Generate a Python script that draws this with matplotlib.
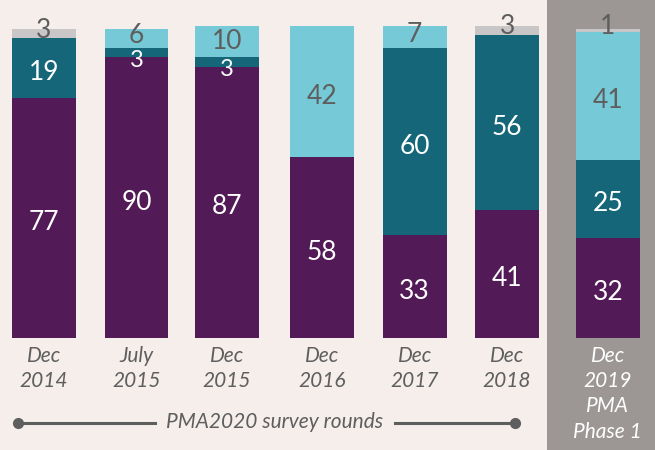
import matplotlib
matplotlib.use("Agg")
import matplotlib.pyplot as plt
from matplotlib.patches import Rectangle

# survey rounds and shares (%)
rounds = ["Dec\n2014", "July\n2015", "Dec\n2015", "Dec\n2016", "Dec\n2017", "Dec\n2018", "Dec\n2019\nPMA\nPhase 1"]
purple_vals = [77, 90, 87, 58, 33, 41, 32]
teal_vals = [19, 3, 3, 0, 60, 56, 25]
light_vals = [0, 6, 10, 42, 7, 0, 41]
grey_vals = [3, 0, 0, 0, 0, 3, 1]
xpos = [0, 1, 1.98, 3.01, 4.01, 5.01, 6.1]

bg = "#f5eeeb"
panel = "#9c9795"
c_purple = "#521a56"
c_teal = "#146678"
c_light = "#76c9d6"
c_grey = "#c8c6c6"
txt_grey = "#5e5e5e"

plt.rcParams['font.family'] = ['Lato', 'DejaVu Sans']

fig = plt.figure(figsize=(6.55, 4.5), dpi=100)
fig.patch.set_facecolor(bg)
# grey panel behind last bar
fig.patches.append(Rectangle((547/655, 0), 108/655, 1, transform=fig.transFigure,
                             facecolor=panel, edgecolor="none", zorder=-5))

ax = fig.add_axes([0, 112/450, 1, 312/450])
ax.set_zorder(2)
ax.set_facecolor("none")
ax.set_xlim(-0.476, 6.61)
ax.set_ylim(0, 100)
ax.axis("off")

w = 0.69
series = [(purple_vals, c_purple, "white"), (teal_vals, c_teal, "white"),
          (light_vals, c_light, txt_grey), (grey_vals, c_grey, txt_grey)]
bottoms = [0] * len(rounds)
for vals, col, tc in series:
    ax.bar(xpos, vals, w, bottom=bottoms, color=col, edgecolor="none", zorder=2)
    for i, v in enumerate(vals):
        if v == 0:
            continue
        yc = bottoms[i] + v / 2
        fs = 19
        if col == c_grey:
            yc += 1.2
        elif col == c_light and v < 8:
            yc += 0.8
        elif v < 5:
            yc -= 2.4
            fs = 17
        elif v > 12:
            yc -= 1.5
        ax.text(xpos[i], yc, str(v), ha="center", va="center", color=tc,
                fontsize=fs, fontweight="normal", zorder=3)
    bottoms = [b + v for b, v in zip(bottoms, vals)]

# x labels
for i, lab in enumerate(rounds):
    col = "white" if i == len(rounds) - 1 else txt_grey
    ax.text(xpos[i], -2.5, lab, ha="center", va="top", color=col, fontsize=15,
            style="italic", linespacing=1.33, clip_on=False)

# bracket line for PMA2020 survey rounds
yl = 1 - 423/450
fig.add_artist(plt.Line2D([18/655, 155/655], [yl, yl], color=txt_grey, lw=2.2,
                          marker="o", markersize=7, markevery=[0], transform=fig.transFigure))
fig.add_artist(plt.Line2D([395/655, 515/655], [yl, yl], color=txt_grey, lw=2.2,
                          marker="o", markersize=7, markevery=[1], transform=fig.transFigure))
fig.text(275/655, 1 - 422/450, "PMA2020 survey rounds", ha="center", va="center",
         color=txt_grey, fontsize=15, style="italic")

fig.savefig("out.png", dpi=100, facecolor=bg)
